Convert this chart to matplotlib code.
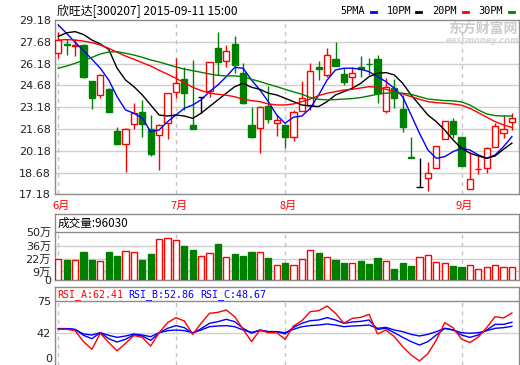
import matplotlib
matplotlib.use("Agg")
import matplotlib.pyplot as plt
from matplotlib.lines import Line2D
import matplotlib.transforms as mtransforms
import numpy as np

# ---------------- data ----------------
title = "欣旺达[300207] 2015-09-11 15:00"
legend_labels = ["5PMA", "10PM", "20PM", "30PM"]
price_ticks = [17.18, 18.68, 20.18, 21.68, 23.18, 24.68, 26.18, 27.68, 29.18]
vol_ticks = [0, 9, 22, 36, 50]
vol_tick_labels = ["0", "9万", "22万", "36万", "50万"]
rsi_ticks = [42, 75]
month_labels = ["6月", "7月", "8月", "9月"]
month_starts = [0, 14, 27, 48]
vol_title = "成交量:96030"
rsi_titles = ["RSI_A:62.41", "RSI_B:52.86", "RSI_C:48.67"]

opens = [26.93, 27.50, 27.42, 27.46, 24.98, 24.02, 24.43, 21.54, 20.63, 22.00,
         22.87, 21.68, 21.25, 22.07, 24.20, 25.10, 21.96, 23.90, 24.32, 27.23,
         26.38, 27.53, 25.51, 21.96, 21.73, 23.26, 22.07, 21.96, 21.11, 22.94,
         23.33, 25.92, 25.40, 26.48, 25.46, 25.24, 25.92, 26.15, 26.48, 22.94,
         24.48, 23.06, 19.75, 17.71, 18.29, 18.98, 20.97, 22.25, 21.11, 17.53,
         18.90, 18.98, 20.46, 21.38, 22.18]
highs = [28.35, 27.85, 27.85, 27.50, 24.98, 25.46, 24.50, 21.84, 21.73, 23.49,
         23.68, 22.64, 22.00, 24.18, 26.54, 25.97, 26.43, 23.90, 26.27, 28.38,
         27.46, 28.08, 26.20, 23.17, 23.26, 24.64, 22.64, 21.96, 22.99, 24.98,
         26.20, 26.36, 27.23, 27.69, 25.85, 25.92, 26.70, 26.54, 26.77, 25.17,
         25.10, 24.02, 21.15, 19.66, 19.43, 20.51, 22.23, 22.41, 21.11, 20.12,
         19.82, 20.46, 22.07, 22.64, 22.80]
lows = [26.54, 26.77, 26.70, 25.17, 23.06, 23.79, 22.87, 20.63, 18.74, 21.66,
        21.11, 19.84, 18.86, 20.97, 23.79, 22.99, 21.70, 22.76, 23.90, 25.40,
        25.97, 25.51, 23.40, 21.04, 20.05, 22.11, 21.20, 20.35, 20.88, 22.94,
        22.99, 25.05, 25.28, 26.02, 24.71, 24.48, 25.28, 25.40, 23.49, 22.80,
        23.10, 21.50, 19.71, 17.71, 17.44, 18.98, 20.97, 21.04, 19.16, 17.53,
        18.58, 18.63, 20.46, 21.04, 21.61]
closes = [27.80, 27.45, 27.47, 25.28, 23.79, 25.40, 22.87, 20.63, 21.68, 22.76,
          22.00, 19.98, 21.93, 24.14, 24.85, 24.18, 21.70, 23.90, 26.27, 26.27,
          27.07, 26.08, 23.49, 21.15, 23.17, 22.35, 22.30, 21.15, 22.87, 23.79,
          25.69, 25.81, 26.77, 26.02, 24.94, 25.51, 25.79, 26.12, 24.14, 24.55,
          23.79, 21.84, 19.71, 17.71, 18.63, 20.51, 22.23, 21.34, 19.16, 18.24,
          18.95, 20.35, 21.91, 21.68, 22.46]

ma5 = [28.84, 28.25, 27.65, 27.07, 26.48, 25.86, 25.05, 23.90, 22.99, 22.76,
       22.42, 21.49, 21.61, 22.18, 22.64, 23.10, 23.33, 23.68, 24.25, 24.71,
       25.28, 25.92, 25.86, 25.05, 24.36, 23.56, 22.64, 22.07, 22.49, 22.57,
       23.10, 24.02, 25.05, 25.74, 25.86, 25.86, 25.79, 25.62, 25.28, 24.94,
       24.48, 23.90, 22.64, 21.38, 20.23, 19.66, 19.77, 20.12, 20.35, 20.23,
       19.89, 19.66, 19.89, 20.46, 21.15]
ma10 = [28.05, 28.30, 28.38, 28.18, 27.80, 27.53, 27.16, 25.86, 25.05, 24.59,
        24.02, 23.33, 22.64, 22.57, 22.64, 22.57, 22.41, 22.76, 23.22, 23.68,
        24.14, 24.59, 24.82, 24.55, 24.41, 24.14, 24.02, 23.79, 23.56, 23.33,
        23.26, 23.22, 23.56, 24.02, 24.25, 24.48, 24.82, 25.28, 25.51, 25.56,
        25.40, 24.82, 24.02, 23.33, 22.64, 22.18, 21.61, 20.92, 20.35, 20.01,
        19.82, 19.66, 19.82, 20.28, 20.70]
ma20 = [27.80, 27.83, 27.80, 27.73, 27.62, 27.46, 27.23, 26.96, 26.70, 26.48,
        26.24, 26.01, 25.72, 25.45, 25.17, 24.85, 24.55, 24.32, 24.14, 24.07,
        24.00, 23.90, 23.72, 23.63, 23.56, 23.40, 23.33, 23.33, 23.40, 23.56,
        23.74, 23.98, 24.14, 24.25, 24.36, 24.41, 24.50, 24.59, 24.55, 24.41,
        24.25, 24.09, 23.90, 23.72, 23.56, 23.49, 23.45, 23.40, 23.31, 23.10,
        22.80, 22.49, 22.18, 21.96, 21.78]
ma30 = [25.86, 26.01, 26.20, 26.38, 26.61, 26.84, 26.98, 27.00, 26.89, 26.77,
        26.61, 26.43, 26.29, 26.12, 25.95, 25.80, 25.69, 25.58, 25.46, 25.37,
        25.33, 25.33, 25.28, 25.10, 24.94, 24.76, 24.59, 24.41, 24.23, 24.07,
        23.84, 23.72, 23.68, 23.70, 23.74, 23.77, 23.84, 23.95, 24.07, 24.14,
        24.18, 24.14, 24.07, 23.90, 23.74, 23.68, 23.63, 23.61, 23.54, 23.33,
        22.99, 22.71, 22.60, 22.57, 22.57]

volumes = [21.6, 20.8, 20.5, 29.2, 20.8, 19.4, 29.2, 25.0, 30.9, 29.2,
           20.8, 27.1, 43.4, 44.4, 41.7, 35.4, 31.3, 24.7, 27.8, 37.5,
           23.6, 27.1, 25.0, 29.2, 29.2, 22.9, 15.6, 17.7, 15.6, 21.5,
           31.3, 28.5, 24.0, 20.8, 17.7, 17.7, 19.8, 16.7, 22.9, 19.8,
           11.5, 17.7, 14.6, 24.0, 26.0, 19.0, 17.5, 14.6, 13.5, 15.4,
           11.2, 13.3, 15.4, 13.3, 13.3]

rsi_a = [45.6, 45.6, 44.2, 32.9, 25.0, 41.5, 32.0, 23.4, 31.1, 39.2,
         37.3, 28.4, 42.1, 52.4, 57.6, 54.2, 40.4, 51.8, 62.1, 63.1,
         65.5, 58.6, 45.6, 32.9, 44.9, 42.1, 42.1, 35.3, 49.0, 54.5,
         63.8, 64.8, 69.6, 62.1, 51.8, 56.9, 57.9, 61.0, 40.8, 44.9,
         38.0, 27.7, 19.1, 13.0, 20.5, 34.5, 52.4, 47.2, 35.5, 32.0,
         37.6, 47.4, 58.6, 57.3, 62.41]
rsi_b = [46.3, 46.3, 45.6, 39.4, 35.9, 42.1, 35.9, 32.5, 35.3, 40.1,
         38.7, 34.2, 41.8, 46.6, 49.4, 47.3, 41.5, 46.3, 51.8, 53.5,
         55.9, 53.5, 46.6, 41.5, 44.9, 43.2, 43.2, 40.8, 47.6, 51.8,
         54.5, 55.2, 57.6, 55.2, 51.8, 53.1, 53.8, 55.2, 45.6, 46.6,
         42.1, 37.3, 32.9, 29.4, 32.9, 39.7, 46.6, 44.9, 39.7, 37.3,
         39.7, 44.9, 50.7, 50.7, 52.86]
rsi_c = [46.3, 46.3, 45.3, 40.8, 39.7, 42.1, 39.4, 37.3, 38.7, 40.8,
         39.7, 38.0, 42.1, 44.2, 44.9, 44.2, 42.1, 44.9, 48.3, 49.0,
         49.4, 48.3, 44.9, 42.5, 44.2, 43.2, 43.2, 42.1, 45.6, 48.3,
         49.4, 50.0, 51.1, 50.0, 48.3, 49.0, 49.4, 50.0, 46.6, 47.6,
         44.9, 43.2, 40.4, 38.7, 40.4, 43.2, 46.6, 44.9, 42.1, 41.5,
         42.1, 44.2, 46.6, 47.3, 48.67]

# ---------------- style ----------------
W, H, DPI = 520, 365, 100
RED, GREEN, BLUE, BLACK = "#ff0000", "#008000", "#0000ff", "#000000"
BORDER = "#8c8c8c"
GRID = "#d0d0d0"
VGRID = "#c4c4c4"
CJK = ["Noto Sans CJK SC", "DejaVu Sans"]
TICKF = ["DejaVu Sans", "Noto Sans CJK SC"]
MONO = ["DejaVu Sans Mono", "Noto Sans CJK SC"]

fig = plt.figure(figsize=(W / DPI, H / DPI), dpi=DPI)
fig.patch.set_facecolor("white")


def px_axes(left, top, right, bottom):
    return fig.add_axes([left / W, 1 - bottom / H, (right - left) / W, (bottom - top) / H])


L, R = 55, 518.5
X0, DX = 58.3, 8.4
xlim = ((L - X0) / DX, (R - X0) / DX)

ax = px_axes(L, 20, R, 194.3)
axv = px_axes(L, 214.3, R, 280)
axr = px_axes(L, 287.3, R, 365)

for a in (ax, axv, axr):
    a.set_xlim(*xlim)
    a.set_xticks([])
    for s in a.spines.values():
        s.set_color(BORDER)
        s.set_linewidth(1)
    a.tick_params(axis="y", length=0, pad=3, labelsize=8, colors="#222222")
    a.set_facecolor("white")

n = len(closes)
idx = np.arange(n)
bw = 0.72

# ---------------- main price panel ----------------
ax.set_ylim(price_ticks[0], price_ticks[-1])
ax.set_yticks(price_ticks)
ax.set_yticklabels([f"{t:.2f}" for t in price_ticks], family=TICKF)
for t in price_ticks[1:-1]:
    ax.axhline(t, color=GRID, lw=1, zorder=0)
for m in month_starts:
    ax.axvline(m, color=VGRID, lw=1, ls=(0, (3, 3)), zorder=0)

for i in range(n):
    o, h, l, c = opens[i], highs[i], lows[i], closes[i]
    col = RED if c > o else (GREEN if c < o else BLACK)
    ax.vlines(i, l, h, color=col, lw=1, zorder=3)
    if c == o:
        ax.hlines(c, i - bw / 2, i + bw / 2, color=col, lw=1, zorder=4)
    else:
        ax.bar(i, abs(c - o), bottom=min(o, c), width=bw,
               facecolor=("white" if c > o else GREEN), edgecolor=col, lw=1, zorder=4)

for vals, col in ((ma5, BLUE), (ma10, BLACK), (ma20, RED), (ma30, GREEN)):
    ax.plot(idx, vals, color=col, lw=1, zorder=5)

trans = mtransforms.blended_transform_factory(ax.transData, ax.transAxes)
for m, lab in zip(month_starts, month_labels):
    ax.text(m + 0.35, -0.068, lab, transform=trans, ha="center", va="center",
            color=RED, fontsize=8, family=CJK, clip_on=False)

# ---------------- volume panel ----------------
vol_top = 50 + (232.3 - 214.3) / 0.954
axv.set_ylim(0, vol_top)
axv.set_yticks(vol_ticks)
axv.set_yticklabels(vol_tick_labels, family=TICKF)
for t in vol_ticks[1:-1]:
    axv.axhline(t, color=GRID, lw=1, zorder=0)
axv.axhline(vol_ticks[-1], color=BORDER, lw=1, zorder=1)
axv.vlines(month_starts, 0, vol_ticks[-1], color=VGRID, lw=1, ls=(0, (3, 3)), zorder=0)
for i in range(n):
    up = closes[i] >= opens[i]
    axv.bar(i, volumes[i], width=bw, facecolor=("white" if up else GREEN),
            edgecolor=(RED if up else GREEN), lw=1, zorder=3)
fig.text(58 / W, 1 - 223 / H, vol_title, fontsize=8.4, family=CJK, va="center", ha="left")

# ---------------- RSI panel ----------------
px_per = 0.97
axr.set_ylim(42 - (365 - 332.8) / px_per, 42 + (332.8 - 287.3) / px_per)
axr.set_yticks(rsi_ticks)
axr.set_yticklabels([str(t) for t in rsi_ticks], family=TICKF)
axr.axhline(42, color=GRID, lw=1, zorder=0)
axr.axhline(75, color=BORDER, lw=1, zorder=1)
axr.vlines(month_starts, axr.get_ylim()[0], 75, color=VGRID, lw=1, ls=(0, (3, 3)), zorder=0)
axr.plot(idx, rsi_c, color=BLUE, lw=1, zorder=3)
axr.plot(idx, rsi_b, color=BLUE, lw=1, zorder=3)
axr.plot(idx, rsi_a, color=RED, lw=1, zorder=4)
axr.spines["bottom"].set_visible(False)
fig.text(52 / W, 1 - 359.5 / H, "0", fontsize=8, family=TICKF, color="#222222",
         ha="right", va="center")
for xp, txt, col in zip((57, 128, 200), rsi_titles, (RED, BLUE, BLUE)):
    fig.text(xp / W, 1 - 295 / H, txt, fontsize=7.2, family=MONO, color=col,
             va="center", ha="left")

# ---------------- header ----------------
fig.text(57 / W, 1 - 11.5 / H, title, fontsize=8.6, family=CJK, va="center", ha="left")
leg_x = [340, 387, 432, 478]
dash_x = [371, 416, 463, 509]
for lx, dx, lab, col in zip(leg_x, dash_x, legend_labels, (BLUE, BLACK, RED, GREEN)):
    fig.text(lx / W, 1 - 11.5 / H, lab, fontsize=7.4, family=MONO, va="center", ha="left")
    fig.add_artist(Line2D([dx / W, (dx + 5) / W], [1 - 12 / H, 1 - 12 / H],
                          transform=fig.transFigure, color=col, lw=2))

# watermark
fig.text(483 / W, 1 - 29 / H, "东方财富网", fontsize=10, family=CJK, weight="bold",
         color="#cccccc", ha="center", va="center", zorder=0.5)
fig.text(483 / W, 1 - 40.5 / H, "eastmoney.com", fontsize=6, family=["DejaVu Sans"],
         weight="bold", style="italic", color="#d6d6d6", ha="center", va="center", zorder=0.5)

fig.savefig("out.png", dpi=DPI, facecolor="white")
